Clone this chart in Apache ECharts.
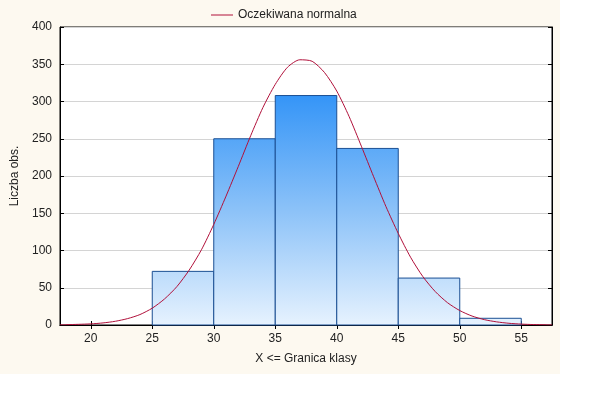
<!DOCTYPE html>
<html>
<head>
<meta charset="utf-8">
<script src="https://cdn.jsdelivr.net/npm/echarts@6/dist/echarts.min.js"></script>
<style>
html,body{margin:0;padding:0;background:#ffffff;}
#panel{position:absolute;left:0;top:0;width:560px;height:374px;background:#fdf9f0;}
#chart{position:absolute;left:0;top:0;width:593px;height:396px;}
</style>
</head>
<body>
<div id="panel"></div>
<div id="chart"></div>
<script>
// Histogram bins (class boundaries) and counts
const binStarts = [25, 30, 35, 40, 45, 50];
const binEnds   = [30, 35, 40, 45, 50, 55];
const counts    = [72, 250, 308, 237, 63, 9];

// Expected normal curve
const curveX = [17.5,18,19,20,21,22,23,24,25,26,27,28,29,30,31,32,33,34,35,36,37,38,39,40,41,42,43,44,45,46,47,48,49,50,51,52,53,54,55,56,57,57.5];
const curveY = [0.3,0.4,0.9,1.5,2.8,5,8.6,14,22.6,35,51.5,73.6,101,135,173,213,254,292,323,346,356,354,339,314,280,240,199,159,123,91,65,45,30,19.4,12,7.2,4.2,2.3,1.2,0.6,0.3,0.2];

const xTicks = [20, 25, 30, 35, 40, 45, 50, 55];
const yTicks = [0, 50, 100, 150, 200, 250, 300, 350, 400];

const barData = binStarts.map((s, i) => [s, binEnds[i], counts[i]]);
const lineData = curveX.map((x, i) => [x, curveY[i]]);

const font = 'Liberation Sans, Arial, sans-serif';
const chart = echarts.init(document.getElementById('chart'), null, {renderer: 'canvas'});

const grad = new echarts.graphic.LinearGradient(0, 96, 0, 325, [
  {offset: 0, color: '#3595f7'},
  {offset: 0.5, color: '#8cc2f8'},
  {offset: 1, color: '#e6f2fe'}
], true);

chart.setOption({
  backgroundColor: 'transparent',
  animation: false,
  textStyle: {fontFamily: font},
  legend: {
    data: ['Oczekiwana normalna'],
    left: 206, top: 4,
    icon: 'rect', itemWidth: 22, itemHeight: 1, itemGap: 6,
    textStyle: {fontSize: 12, color: '#222', fontFamily: font}
  },
  grid: {left: 60, top: 27, right: 41, bottom: 71, show: true, borderColor: '#000', borderWidth: 1, backgroundColor: '#fff'},
  xAxis: [{
    type: 'value', min: 17.5, max: 57.5,
    name: 'X <= Granica klasy', nameLocation: 'middle', nameGap: 28,
    nameTextStyle: {fontSize: 12, color: '#222', fontFamily: font},
    axisLine: {show: true, lineStyle: {color: '#000', width: 1}},
    axisTick: {show: true, inside: true, length: 4, customValues: xTicks, lineStyle: {color: '#000'}},
    axisLabel: {customValues: xTicks, fontSize: 12, color: '#222', margin: 8, fontFamily: font},
    splitLine: {show: false}
  }, {
    type: 'value', min: 17.5, max: 57.5, position: 'top',
    axisLine: {show: true, lineStyle: {color: '#000'}},
    axisTick: {show: true, inside: true, length: 4, customValues: xTicks, lineStyle: {color: '#000'}},
    axisLabel: {show: false},
    splitLine: {show: false}
  }],
  yAxis: [{
    type: 'value', min: 0, max: 400, interval: 50,
    name: 'Liczba obs.', nameLocation: 'middle', nameGap: 35,
    nameTextStyle: {fontSize: 12, color: '#222', fontFamily: font},
    axisLine: {show: true, lineStyle: {color: '#000'}},
    axisTick: {show: true, inside: true, length: 4, lineStyle: {color: '#000'}},
    axisLabel: {fontSize: 12, color: '#222', margin: 8, fontFamily: font},
    splitLine: {show: true, lineStyle: {color: '#d4d4d4', width: 1}}
  }, {
    type: 'value', min: 0, max: 400, interval: 50, position: 'right',
    axisLine: {show: true, lineStyle: {color: '#000'}},
    axisTick: {show: true, inside: true, length: 4, lineStyle: {color: '#000'}},
    axisLabel: {show: false},
    splitLine: {show: false}
  }],
  series: [{
    type: 'custom',
    name: 'Histogram',
    xAxisIndex: 0, yAxisIndex: 0,
    data: barData,
    encode: {x: [0, 1], y: 2},
    renderItem: function (params, api) {
      const p0 = api.coord([api.value(0), api.value(2)]);
      const p1 = api.coord([api.value(1), 0]);
      return {
        type: 'rect',
        shape: {x: p0[0], y: p0[1], width: p1[0] - p0[0], height: p1[1] - p0[1]},
        style: {fill: grad, stroke: '#1b4f93', lineWidth: 1}
      };
    },
    z: 2
  }, {
    type: 'line',
    name: 'Oczekiwana normalna',
    xAxisIndex: 0, yAxisIndex: 0,
    data: lineData,
    smooth: 0.25,
    showSymbol: false,
    symbol: 'none',
    lineStyle: {color: '#b0103a', width: 1},
    itemStyle: {color: '#b0103a'},
    z: 3
  }]
});
</script>
</body>
</html>
